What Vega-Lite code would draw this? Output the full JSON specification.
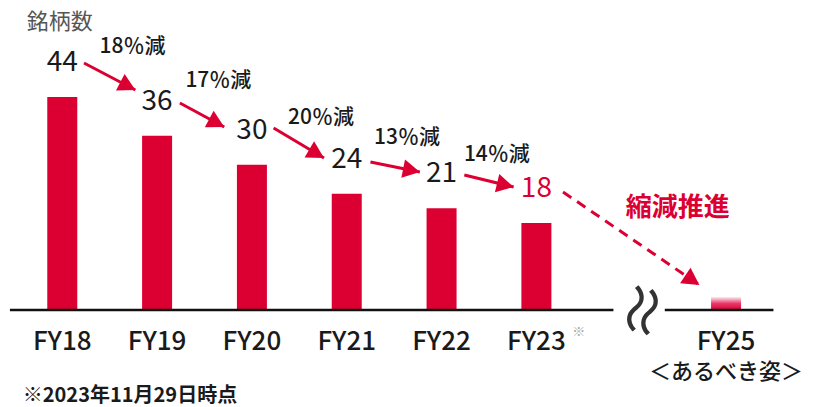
{
  "$schema": "https://vega.github.io/schema/vega-lite/v6.json",
  "width": 816,
  "height": 407,
  "autosize": {"type": "fit", "contains": "padding"},
  "padding": 0,
  "background": "white",
  "config": {"view": {"stroke": null}, "font": "Noto Sans CJK JP"},
  "datasets": {
    "bars": [
      {"fy": "FY18", "x": 0, "y": 44},
      {"fy": "FY19", "x": 1, "y": 36},
      {"fy": "FY20", "x": 2, "y": 30},
      {"fy": "FY21", "x": 3, "y": 24},
      {"fy": "FY22", "x": 4, "y": 21},
      {"fy": "FY23", "x": 5, "y": 18}
    ],
    "target": [{"fy": "FY25", "x": 7, "y": 2.7}],
    "baseline": [
      {"x": -0.552, "x2": 5.8125, "y": 0},
      {"x": 6.354, "x2": 7.5, "y": 0}
    ],
    "xlabels": [
      {"fy": "FY18", "x": 0, "y": -6.6},
      {"fy": "FY19", "x": 1, "y": -6.6},
      {"fy": "FY20", "x": 2, "y": -6.6},
      {"fy": "FY21", "x": 3, "y": -6.6},
      {"fy": "FY22", "x": 4, "y": -6.6},
      {"fy": "FY23", "x": 5, "y": -6.6},
      {"fy": "FY25", "x": 7, "y": -6.6}
    ],
    "arrows": [
      {"x": 0.229, "y": 51.03, "x2": 0.771, "y2": 45.45, "ang": 117.4},
      {"x": 1.24, "y": 42.77, "x2": 1.708, "y2": 37.81, "ang": 118.1},
      {"x": 2.229, "y": 37.6, "x2": 2.76, "y2": 31.4, "ang": 120.5},
      {"x": 3.25, "y": 30.58, "x2": 3.771, "y2": 28.51, "ang": 101.3},
      {"x": 4.24, "y": 27.89, "x2": 4.76, "y2": 25.41, "ang": 103.5}
    ],
    "dashed": [
      {"x": 5.281, "y": 24.38, "x2": 6.719, "y2": 5.17, "ang": 124.0}
    ],
    "pct": [
      {"x": 0.74, "y": 54.34, "label": "18％減"},
      {"x": 1.646, "y": 47.31, "label": "17％減"},
      {"x": 2.729, "y": 39.67, "label": "20％減"},
      {"x": 3.635, "y": 35.54, "label": "13％減"},
      {"x": 4.583, "y": 32.02, "label": "14％減"}
    ]
  },
  "encoding": {
    "x": {"field": "x", "type": "quantitative", "scale": {"domain": [-0.604, 7.896], "nice": false, "zero": false}, "axis": null},
    "y": {"field": "y", "type": "quantitative", "scale": {"domain": [-20.04, 64.05], "nice": false, "zero": false}, "axis": null}
  },
  "layer": [
    {
      "data": {"name": "bars"},
      "mark": {"type": "bar", "width": 30, "fill": "#dc0032", "orient": "vertical"}
    },
    {
      "data": {"name": "target"},
      "mark": {
        "type": "bar", "width": 30, "orient": "vertical",
        "fill": {"gradient": "linear", "x1": 0, "y1": 0, "x2": 0, "y2": 1,
          "stops": [{"offset": 0, "color": "#fdeef2"}, {"offset": 0.5, "color": "#e9386a"}, {"offset": 1, "color": "#dc0032"}]}
      }
    },
    {
      "data": {"name": "baseline"},
      "mark": {"type": "rule", "color": "#111111", "strokeWidth": 2.5},
      "encoding": {"x2": {"field": "x2"}}
    },
    {
      "data": {"name": "bars"},
      "mark": {"type": "text", "dy": -34, "fontSize": 28, "baseline": "middle", "align": "center"},
      "encoding": {
        "text": {"field": "y"},
        "color": {"condition": {"test": "datum.fy == 'FY23'", "value": "#dc0032"}, "value": "#1a1a1a"}
      }
    },
    {
      "data": {"name": "arrows"},
      "mark": {"type": "rule", "color": "#dc0032", "strokeWidth": 3},
      "encoding": {"x2": {"field": "x2"}, "y2": {"field": "y2"}}
    },
    {
      "data": {"name": "dashed"},
      "mark": {"type": "rule", "color": "#dc0032", "strokeWidth": 3, "strokeDash": [10, 7]},
      "encoding": {"x2": {"field": "x2"}, "y2": {"field": "y2"}}
    },
    {
      "data": {"name": "arrows"},
      "mark": {"type": "point", "shape": "M0,0L0.55,1L-0.55,1Z", "size": 1156, "filled": true, "color": "#dc0032", "opacity": 1},
      "encoding": {
        "x": {"field": "x2", "type": "quantitative", "scale": {"domain": [-0.604, 7.896], "nice": false, "zero": false}},
        "y": {"field": "y2", "type": "quantitative", "scale": {"domain": [-20.04, 64.05], "nice": false, "zero": false}},
        "angle": {"field": "ang", "type": "quantitative", "scale": null}
      }
    },
    {
      "data": {"name": "dashed"},
      "mark": {"type": "point", "shape": "M0,0L0.55,1L-0.55,1Z", "size": 1156, "filled": true, "color": "#dc0032", "opacity": 1},
      "encoding": {
        "x": {"field": "x2", "type": "quantitative", "scale": {"domain": [-0.604, 7.896], "nice": false, "zero": false}},
        "y": {"field": "y2", "type": "quantitative", "scale": {"domain": [-20.04, 64.05], "nice": false, "zero": false}},
        "angle": {"field": "ang", "type": "quantitative", "scale": null}
      }
    },
    {
      "data": {"name": "pct"},
      "mark": {"type": "text", "fontSize": 21, "fontWeight": 500, "color": "#1a1a1a", "baseline": "middle", "align": "center"},
      "encoding": {"text": {"field": "label"}}
    },
    {
      "data": {"name": "xlabels"},
      "mark": {"type": "text", "fontSize": 26, "fontWeight": 500, "color": "#1a1a1a", "baseline": "middle", "align": "center"},
      "encoding": {"text": {"field": "fy"}}
    },
    {
      "data": {"values": [{"x": 7, "y": -12.9, "t": "＜あるべき姿＞"}]},
      "mark": {"type": "text", "fontSize": 22, "fontWeight": 500, "color": "#1a1a1a", "baseline": "middle", "align": "center"},
      "encoding": {"text": {"field": "t"}}
    },
    {
      "data": {"values": [{"x": 5.448, "y": -4.55, "t": "※"}]},
      "mark": {"type": "text", "fontSize": 13, "color": "#aaaaaa", "baseline": "middle", "align": "center"},
      "encoding": {"text": {"field": "t"}}
    },
    {
      "data": {"values": [{"x": 6.49, "y": 21.07, "t": "縮減推進"}]},
      "mark": {"type": "text", "fontSize": 26, "fontWeight": "bold", "color": "#dc0032", "baseline": "middle", "align": "center"},
      "encoding": {"text": {"field": "t"}}
    },
    {
      "data": {"values": [{"x": 6.073, "y": 0.2, "t": "≈"}]},
      "mark": {"type": "text", "fontSize": 62, "angle": 105, "color": "#333333", "baseline": "middle", "align": "center"},
      "encoding": {"text": {"field": "t"}}
    },
    {
      "data": {"values": [{"x": -0.375, "y": 59.5, "t": "銘柄数"}]},
      "mark": {"type": "text", "fontSize": 22, "color": "#555555", "baseline": "middle", "align": "left"},
      "encoding": {"text": {"field": "t"}}
    },
    {
      "data": {"values": [{"x": -0.417, "y": -17.77, "t": "※2023年11月29日時点"}]},
      "mark": {"type": "text", "fontSize": 20, "fontWeight": "bold", "color": "#1a1a1a", "baseline": "middle", "align": "left"},
      "encoding": {"text": {"field": "t"}}
    }
  ]
}
